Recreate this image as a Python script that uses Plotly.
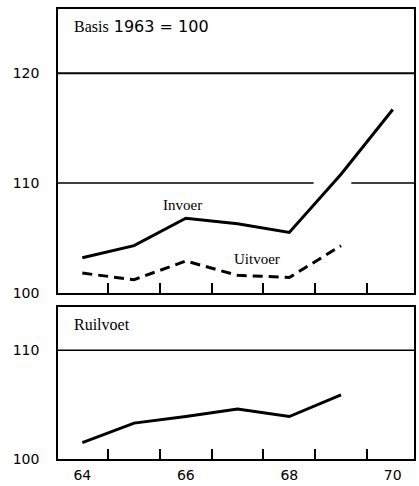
import plotly.graph_objects as go

years_invoer = [64, 65, 66, 67, 68, 69, 70]
invoer = [103.2, 104.3, 106.8, 106.3, 105.5, 110.8, 116.7]
years_uitvoer = [64, 65, 66, 67, 68, 69]
uitvoer = [101.8, 101.2, 102.9, 101.6, 101.4, 104.3]
years_ruil = [64, 65, 66, 67, 68, 69]
ruilvoet = [101.5, 103.3, 103.9, 104.6, 103.9, 105.9]
x_labels = ["64", "66", "68", "70"]
x_label_vals = [64, 66, 68, 70]
x_tick_vals = [64.5, 65.5, 66.5, 67.5, 68.5, 69.5]

SERIF = "Liberation Serif"
SANS = "DejaVu Sans"

fig = go.Figure()
fig.add_trace(go.Scatter(x=years_invoer, y=invoer, mode="lines",
                         line=dict(color="black", width=3), xaxis="x", yaxis="y"))
fig.add_trace(go.Scatter(x=years_uitvoer, y=uitvoer, mode="lines",
                         line=dict(color="black", width=3, dash="10px,6px"), xaxis="x", yaxis="y"))
fig.add_trace(go.Scatter(x=years_ruil, y=ruilvoet, mode="lines",
                         line=dict(color="black", width=3), xaxis="x2", yaxis="y2"))

xcommon = dict(range=[63.53, 70.41], showgrid=False, zeroline=False, showline=True,
               linecolor="black", linewidth=2, mirror=True,
               tickmode="array", tickvals=x_label_vals, ticks="",
               minor=dict(tickmode="array", tickvals=x_tick_vals, ticks="inside",
                          ticklen=10, tickwidth=1.5, tickcolor="black", showgrid=False))
ycommon = dict(showgrid=False, zeroline=False, showline=True, linecolor="black",
               linewidth=1.5, mirror=True, ticks="", ticklabelstandoff=14,
               tickfont=dict(family=SANS, size=14, color="black"))

fig.update_layout(
    width=419, height=486,
    margin=dict(l=58, r=3, t=9, b=22),
    paper_bgcolor="white", plot_bgcolor="white",
    showlegend=False,
    xaxis=dict(**xcommon, anchor="y", showticklabels=False),
    xaxis2=dict(**xcommon, anchor="y2", ticktext=x_labels, ticklabelstandoff=2,
                tickfont=dict(family=SANS, size=14, color="black")),
    yaxis=dict(**ycommon, domain=[0.3692, 1], range=[100, 125.86],
               tickvals=[100, 110, 120], anchor="x"),
    yaxis2=dict(**ycommon, domain=[0, 0.3385], range=[100, 114],
                tickvals=[100, 110], anchor="x2"),
    shapes=[
        dict(type="line", xref="x domain", yref="y", x0=0, x1=1, y0=120, y1=120,
             line=dict(color="black", width=2)),
        dict(type="line", xref="x domain", yref="y", x0=0, x1=0.718, y0=110, y1=110,
             line=dict(color="black", width=1.5)),
        dict(type="line", xref="x domain", yref="y", x0=0.824, x1=1, y0=110, y1=110,
             line=dict(color="black", width=1.5)),
        dict(type="line", xref="x2 domain", yref="y2", x0=0, x1=1, y0=110, y1=110,
             line=dict(color="black", width=1.5)),
    ],
    annotations=[
        dict(text="<span style='font-family:Liberation Serif'>Basis</span> 1963 = 100",
             xref="x domain", yref="y domain", x=0.04, y=0.94, xanchor="left",
             yanchor="middle", showarrow=False, font=dict(family=SANS, size=16, color="black")),
        dict(text="Invoer", xref="x", yref="y", x=65.93, y=108.0, showarrow=False,
             font=dict(family=SERIF, size=15, color="black")),
        dict(text="Uitvoer", xref="x", yref="y", x=67.375, y=103.06, showarrow=False,
             font=dict(family=SERIF, size=15, color="black")),
        dict(text="Ruilvoet", xref="x2 domain", yref="y2 domain", x=0.04, y=0.883,
             xanchor="left", yanchor="middle", showarrow=False,
             font=dict(family=SERIF, size=16, color="black")),
    ],
)

fig.write_html("out.html", config={"displayModeBar": False},
               post_script="document.body.style.margin='0';")
